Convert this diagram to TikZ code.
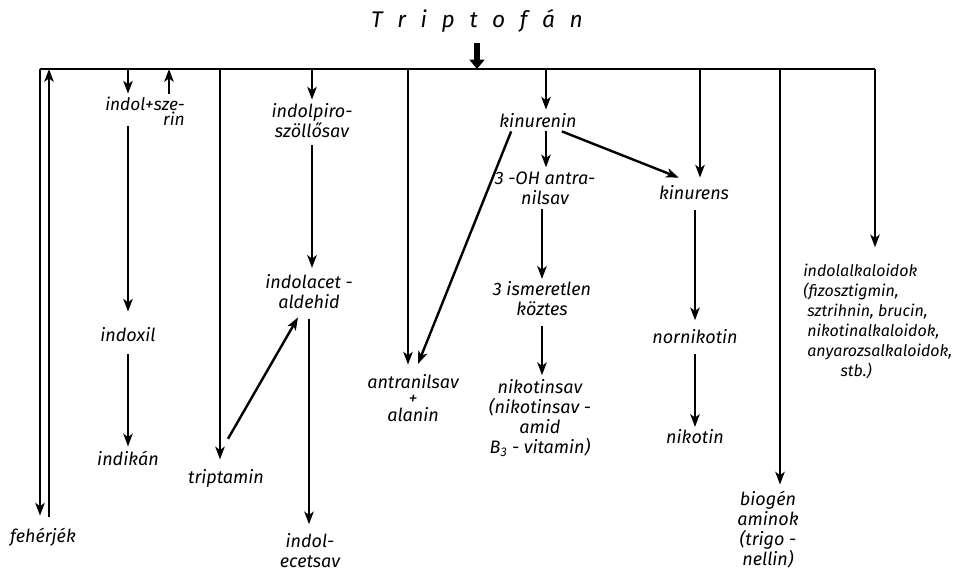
\documentclass[tikz,border=0pt]{standalone}
\usepackage{fontspec}
\setmainfont{Fira Sans}
\usetikzlibrary{arrows.meta,calc}
\newcommand\tls{\hspace{11pt}}
\begin{document}
\begin{tikzpicture}[x=0.75pt,y=-0.75pt,
  lbl/.style={inner sep=0pt, font=\itshape\fontsize{13.5}{15}\selectfont, align=center},
  ln/.style={line width=1.8pt},
  arr/.style={ln,-{Stealth[length=9.5pt,width=7pt,inset=2.5pt]}},
  fat/.style={line width=4pt,-{Triangle[length=7pt,width=11pt]}}]
\useasboundingbox (0,0) rectangle (953,574);

% top line and branch points
\coordinate (L) at (40,69);
\coordinate (R) at (875,69);
\coordinate (b49) at (49,69);
\coordinate (b128) at (128,69);
\coordinate (b169) at (169,69);
\coordinate (b220) at (220,69);
\coordinate (b312) at (312,69);
\coordinate (b408) at (408,69);
\coordinate (tc) at (477,69);
\coordinate (b546) at (546,69);
\coordinate (b700) at (700,69);
\coordinate (b780) at (780,69);

% nodes
\node[lbl, font=\itshape\fontsize{17}{20}\selectfont] (title) at (477,21)
  {T\tls r\tls i\tls p\tls t\tls o\tls f\tls á\tls n};
\node[lbl] (feh) at (43,537) {fehérjék};
\node[lbl, align=right, font=\itshape\fontsize{13}{11.5}\selectfont] (indol) at (145,111) {indol+sze-\\rin};
\node[lbl] (indoxil) at (128,335) {indoxil};
\node[lbl] (indikan) at (128,458) {indikán};
\node[lbl] (tript) at (226,478) {triptamin};
\node[lbl] (ipiro) at (312,121) {indolpiro-\\szöllősav};
\node[lbl] (iacet) at (309,292) {indolacet -\\aldehid};
\node[lbl] (iecet) at (310,551) {indol-\\ecetsav};
\node[lbl, font=\itshape\fontsize{13.5}{12.5}\selectfont] (antr) at (413,398) {antranilsav\\+\\alanin};
\node[lbl] (kin) at (538,121) {kinurenin};
\node[lbl] (oh) at (545,188) {3 -OH antra-\\nilsav};
\node[lbl] (kins) at (694,193) {kinurens};
\node[lbl] (ism) at (542,299) {3 ismeretlen\\köztes};
\node[lbl] (nsav) at (540,418) {nikotinsav\\(nikotinsav -\\amid\\B\textsubscript{3} - vitamin)};
\node[lbl] (nornik) at (695,337) {nornikotin};
\node[lbl] (nik) at (695,437) {nikotin};
\node[lbl] (biog) at (768,530) {biogén\\aminok\\(trigo -\\nellin)};
\node[lbl, align=left, anchor=west, font=\itshape\fontsize{12}{15}\selectfont] (ialk) at (803,321)
  {indolalkaloidok\\(fizosztigmin,\\\hspace*{3pt}sztrihnin, brucin,\\\hspace*{3pt}nikotinalkaloidok,\\\hspace*{3pt}anyarozsalkaloidok,\\\hspace*{28pt}stb.)};

% lines
\draw[ln] (L) -- (R);
\draw[fat] ($(title.south)+(0,10)$) -- (tc);

\draw[arr, shorten >=9pt] (L) -- (L |- feh.north);
\draw[arr, shorten <=8pt] (b49 |- feh.north) -- (b49);
\draw[arr, shorten >=2pt] (b128) -- (b128 |- indol.north);
\draw[arr, shorten <=2pt] (b169 |- indol.north) -- (b169);
\draw[arr, shorten >=12pt] (b128 |- indol.south) -- (b128 |- indoxil.north);
\draw[arr, shorten <=9pt, shorten >=3pt] (indoxil.south) -- (indoxil.south |- indikan.north);
\draw[arr, shorten >=7pt] (b220) -- (b220 |- tript.north);
\draw[arr] ($(tript.north)+(2,-30)$) -- ($(iacet.south)+(-11,8)$);
\draw[arr, shorten >=3pt] (b312) -- (b312 |- ipiro.north);
\draw[arr, shorten <=5pt, shorten >=5pt] (b312 |- ipiro.south) -- (b312 |- iacet.north);
\draw[arr, shorten <=7pt, shorten >=7pt] (iacet.south) -- (iacet.south |- iecet.north);
\draw[arr, shorten >=7pt] (b408) -- (b408 |- antr.north);
\draw[arr] ($(kin.south west)+(12,3)$) -- ($(antr.north)+(5,-10)$);
\draw[arr, shorten >=3pt] (b546) -- (b546 |- kin.north);
\draw[arr, shorten <=2pt, shorten >=3pt] (b546 |- kin.south) -- (b546 |- oh.north);
\draw[arr] ($(kin.south east)+(-15,3)$) -- ($(kins.north west)+(20,-8)$);
\draw[arr, shorten >=6pt] (b700) -- (b700 |- kins.north);
\draw[arr, shorten <=3pt, shorten >=2pt] (ism.north |- oh.south) -- (ism.north);
\draw[arr, shorten <=7pt, shorten >=3pt] (ism.south) -- (ism.south |- nsav.north);
\draw[arr, shorten <=7pt, shorten >=7pt] (nornik.north |- kins.south) -- (nornik.north);
\draw[arr, shorten <=7pt, shorten >=2pt] (nornik.south) -- (nik.north);
\draw[arr, shorten >=5pt] (b780) -- (b780 |- biog.north);
\draw[arr, shorten >=12pt] (R) -- (R |- ialk.north);
\end{tikzpicture}
\end{document}
